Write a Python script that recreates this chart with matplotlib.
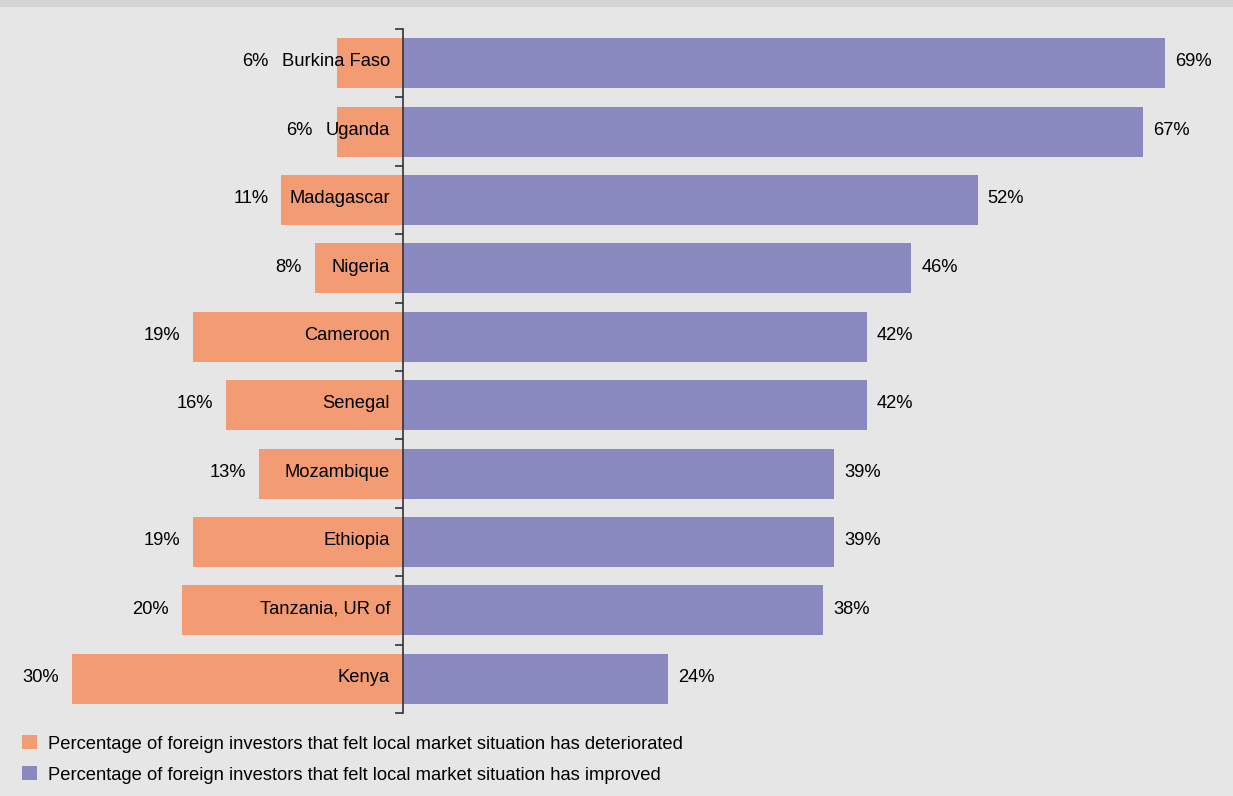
import numpy as np
import matplotlib.pyplot as plt
from matplotlib.patches import Rectangle, Patch

plt.rcParams['font.family'] = ['Liberation Sans', 'DejaVu Sans']

countries = ['Burkina Faso', 'Uganda', 'Madagascar', 'Nigeria', 'Cameroon',
             'Senegal', 'Mozambique', 'Ethiopia', 'Tanzania, UR of', 'Kenya']
deteriorated = [6, 6, 11, 8, 19, 16, 13, 19, 20, 30]
improved = [69, 67, 52, 46, 42, 42, 39, 39, 38, 24]

c_det = '#f39c73'
c_imp = '#8989bf'
bg = '#e6e6e6'
fs = 13.2

W, H = 1233, 796
fig = plt.figure(figsize=(W / 100, H / 100), dpi=100, facecolor=bg)
fig.add_artist(Rectangle((0, 1 - 7 / H), 1, 7 / H, transform=fig.transFigure,
                         facecolor='#d5d5d5', edgecolor='none'))

ax = fig.add_axes([0, 1 - 713 / H, 1, (713 - 29) / H])
ax.set_facecolor('none')
pxper = 11.05
ax.set_xlim(-403 / pxper, (W - 403) / pxper)
ax.set_ylim(len(countries) - 0.5, -0.5)

y = np.arange(len(countries))
ax.barh(y, [-d for d in deteriorated], height=0.73, color=c_det, zorder=2)
ax.barh(y, improved, height=0.73, color=c_imp, zorder=2)

for s in ['top', 'right', 'bottom']:
    ax.spines[s].set_visible(False)
ax.spines['left'].set_position(('data', 0))
ax.spines['left'].set_color('#333333')
ax.spines['left'].set_linewidth(1.2)
ax.spines['left'].set_zorder(3)
ax.set_xticks([])
ax.set_yticks(np.arange(len(countries) + 1) - 0.5)
ax.set_yticklabels([])
ax.tick_params(axis='y', direction='out', length=6, width=1.2, color='#333333')

fig.canvas.draw()
r = fig.canvas.get_renderer()
inv = ax.transData.inverted()
for i, c in enumerate(countries):
    t = ax.text(-13 / pxper, i - 0.02, c, ha='right', va='center', fontsize=fs, zorder=4)
    x0 = t.get_window_extent(r).x0
    left_px = min(x0, ax.transData.transform((-deteriorated[i], 0))[0])
    xd = inv.transform((left_px - 13, 0))[0]
    ax.text(xd, i - 0.02, f'{deteriorated[i]}%', ha='right', va='center', fontsize=fs)
    ax.text(improved[i] + 10 / pxper, i - 0.02, f'{improved[i]}%', ha='left',
            va='center', fontsize=fs)

handles = [Patch(facecolor=c_det, edgecolor='none'),
           Patch(facecolor=c_imp, edgecolor='none')]
labels = ['Percentage of foreign investors that felt local market situation has deteriorated',
          'Percentage of foreign investors that felt local market situation has improved']
fig.legend(handles, labels, loc='upper left', bbox_to_anchor=(15 / W, 1 - 728 / H),
           frameon=False, fontsize=fs, handlelength=0.8, handleheight=0.8,
           handletextpad=0.6, labelspacing=0.75, borderaxespad=0)

fig.savefig('out.png', dpi=100, facecolor=bg)
